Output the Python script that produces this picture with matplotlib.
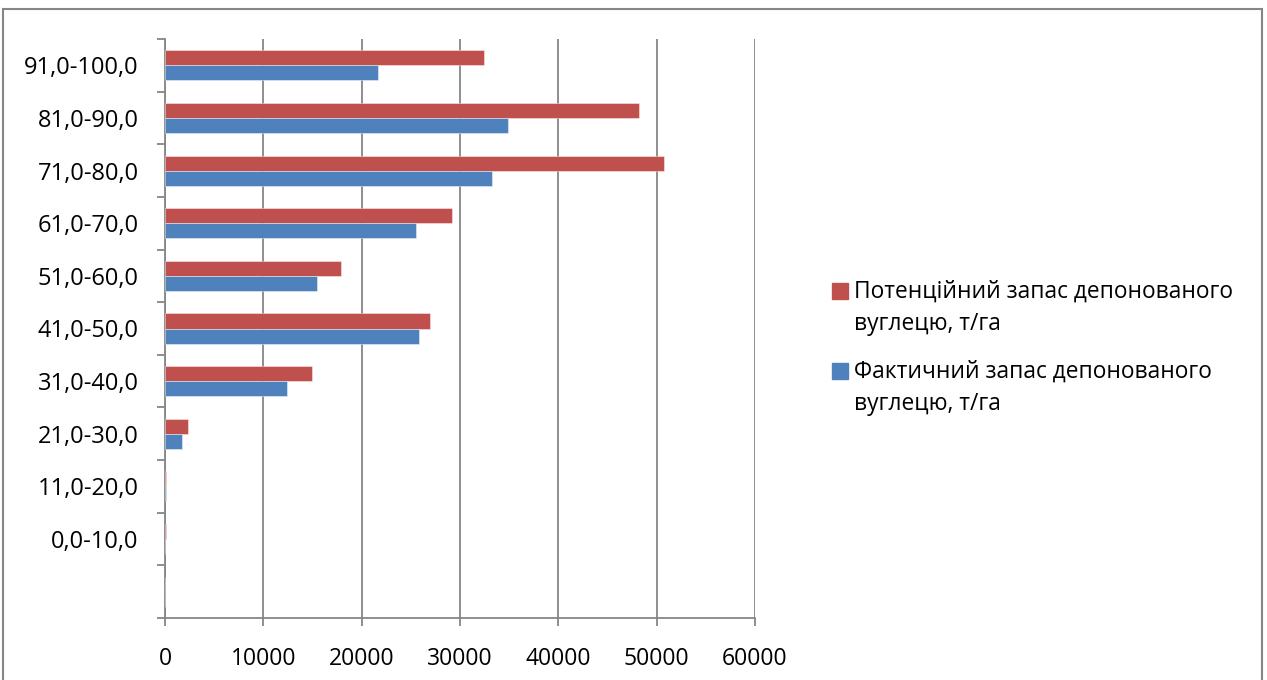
import matplotlib.pyplot as plt
import numpy as np
from matplotlib.patches import Rectangle

plt.rcParams['font.family'] = ['Open Sans', 'DejaVu Sans']

# categories from bottom to top (first one is empty in the original)
kategorii = ['', '0,0-10,0', '11,0-20,0', '21,0-30,0', '31,0-40,0', '41,0-50,0',
             '51,0-60,0', '61,0-70,0', '71,0-80,0', '81,0-90,0', '91,0-100,0']
potenciyny = [0, 100, 150, 2340, 14930, 26900, 17900, 29200, 50760, 48200, 32400]
faktychny = [0, 30, 100, 1700, 12420, 25780, 15440, 25550, 33220, 34880, 21650]

nazva_pot = 'Потенційний запас депонованого\nвуглецю, т/га'
nazva_fakt = 'Фактичний запас депонованого\nвуглецю, т/га'

chervony = '#C0504D'
syniy = '#4F81BD'
siry = '#868686'

W, H = 1267, 680
fig = plt.figure(figsize=(W/100, H/100), dpi=100)
ax = fig.add_axes([165/W, 62/H, 590/W, 579/H])

y = np.arange(len(kategorii))
h = 0.285
ax.barh(y + h/2, potenciyny, height=h, color=chervony,
        edgecolor=(1, 1, 1, 0.5), linewidth=0.6, zorder=3)
ax.barh(y - h/2, faktychny, height=h, color=syniy,
        edgecolor=(1, 1, 1, 0.5), linewidth=0.6, zorder=3)

ax.set_xlim(0, 60000)
ax.set_ylim(-0.5, len(kategorii) - 0.5)
ax.set_xticks(np.arange(0, 60001, 10000))
ax.xaxis.grid(True, color=siry, linewidth=1.3, zorder=0)

# ticks on category boundaries, labels in the middle
ax.set_yticks(np.arange(-0.5, len(kategorii), 1.0))
ax.set_yticklabels([])
ax.set_yticks(y, minor=True)
ax.set_yticklabels(kategorii, minor=True, fontsize=17)
ax.tick_params(axis='y', which='minor', length=0, pad=19)
ax.tick_params(axis='y', which='major', length=6, width=1.3, color=siry)
ax.tick_params(axis='x', length=6, width=1.3, color=siry, labelsize=16.5, pad=15)

for s in ['top', 'right']:
    ax.spines[s].set_visible(False)
for s in ['left', 'bottom']:
    ax.spines[s].set_color(siry)
    ax.spines[s].set_linewidth(1.3)

# legend drawn by hand: square marker next to the first line of the label
legenda = [(nazva_pot, chervony, 283), (nazva_fakt, syniy, 363)]
for nazva, kolir, y0 in legenda:
    fig.patches.append(Rectangle((832/W, 1 - (y0 + 16)/H), 15.5/W, 16/H,
                                 transform=fig.transFigure, color=kolir))
    for i, ryadok in enumerate(nazva.split('\n')):
        fig.text(854/W, 1 - (y0 + 15 + 32*i)/H, ryadok, fontsize=16.4,
                 va='baseline', ha='left')

# frame round the whole chart
fig.patches.append(Rectangle((3/W, -0.05), 1259/W, 1.05 - 9/H, transform=fig.transFigure,
                             fill=False, edgecolor=siry, linewidth=1.5))

plt.savefig('out.png')
